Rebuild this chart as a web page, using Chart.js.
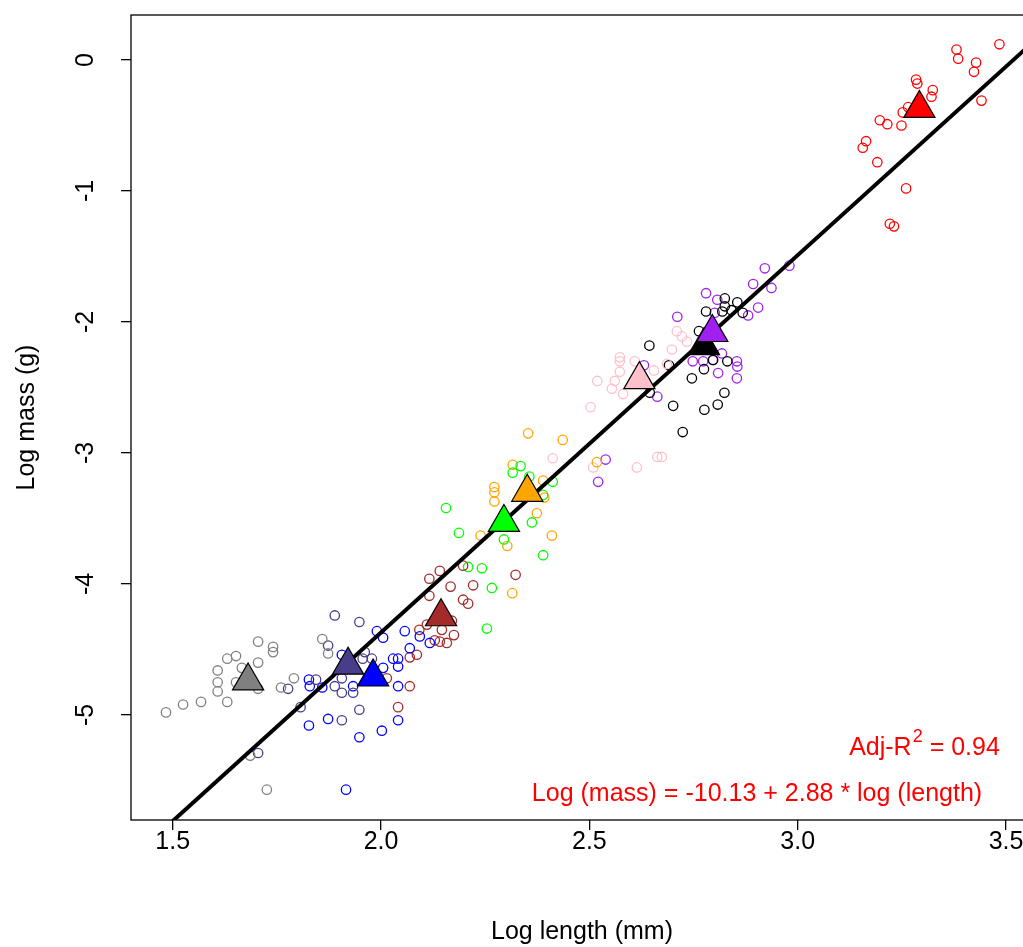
<!DOCTYPE html>
<html>
<head>
<meta charset="utf-8">
<script src="https://cdn.jsdelivr.net/npm/chart.js@4.4.1/dist/chart.umd.min.js"></script>
<style>
  html, body { margin: 0; padding: 0; background: #fff; overflow: hidden; }
  canvas { display: block; }
</style>
</head>
<body>
<canvas id="massChart" width="1040" height="947"></canvas>
<script>
// axis ticks
const xTicks = [1.5, 2.0, 2.5, 3.0, 3.5];
const yTicks = [0, -1, -2, -3, -4, -5];

// fitted line from the plot: Log (mass) = -10.13 + 2.88 * log (length)
const fitIntercept = -10.13;
const fitSlope = 2.88;

// groups (one colour each), [log length, log mass]
const groupColors = ['#808080', '#483d8b', '#0000ff', '#a52a2a', '#00ff00', '#ffa500', '#ffc0cb', '#000000', '#a020f0', '#ff0000'];

const grayPts = [[1.705,-4.44],[1.741,-4.48],[1.741,-4.52],[1.631,-4.57],[1.652,-4.55],[1.705,-4.60],[1.666,-4.64],[1.608,-4.66],[1.608,-4.75],[1.608,-4.82],[1.652,-4.75],[1.705,-4.80],[1.760,-4.79],[1.791,-4.72],[1.859,-4.42],[1.873,-4.53],[1.484,-4.98],[1.525,-4.92],[1.568,-4.90],[1.631,-4.90],[1.686,-5.31],[1.726,-5.57]];
const slatePts = [[1.777,-4.80],[1.807,-4.94],[1.705,-5.29],[1.889,-4.24],[1.948,-4.29],[1.873,-4.47],[1.961,-4.52],[1.956,-4.57],[1.978,-4.57],[1.844,-4.73],[1.889,-4.78],[1.906,-4.72],[1.906,-4.83],[1.933,-4.83],[1.948,-4.96],[1.906,-5.04]];
const bluePts = [[1.827,-4.73],[1.829,-4.78],[1.859,-4.79],[1.827,-5.08],[1.873,-5.03],[1.990,-4.36],[2.005,-4.41],[2.057,-4.36],[1.906,-4.54],[2.029,-4.57],[2.041,-4.57],[2.041,-4.63],[2.005,-4.64],[2.093,-4.40],[2.117,-4.45],[2.069,-4.49],[1.933,-4.78],[2.041,-4.78],[1.948,-5.17],[2.002,-5.12],[2.041,-5.04],[1.916,-5.57]];
const brownPts = [[2.069,-4.56],[2.086,-4.54],[2.069,-4.78],[2.014,-4.72],[2.041,-4.94],[2.116,-4.09],[2.146,-4.35],[2.092,-4.35],[2.110,-4.31],[2.141,-4.44],[2.158,-4.45],[2.129,-4.43],[2.141,-3.90],[2.116,-3.96],[2.167,-4.02],[2.197,-3.86],[2.221,-4.01],[2.323,-3.93],[2.197,-4.12],[2.209,-4.15],[2.170,-4.28],[2.175,-4.39]];
const greenPts = [[2.156,-3.42],[2.187,-3.61],[2.295,-3.66],[2.362,-3.53],[2.389,-3.78],[2.209,-3.87],[2.242,-3.88],[2.266,-4.03],[2.254,-4.34],[2.412,-3.22],[2.389,-3.32],[2.335,-3.10],[2.316,-3.15],[2.356,-3.18]];
const orangePts = [[2.272,-3.26],[2.272,-3.30],[2.272,-3.37],[2.239,-3.63],[2.303,-3.71],[2.374,-3.46],[2.410,-3.63],[2.315,-4.07],[2.353,-2.85],[2.436,-2.90],[2.316,-3.09],[2.389,-3.21],[2.392,-3.34],[2.518,-3.07]];
const pinkPts = [[2.412,-3.04],[2.509,-3.11],[2.573,-2.27],[2.573,-2.30],[2.573,-2.38],[2.609,-2.30],[2.655,-2.37],[2.686,-2.32],[2.698,-2.21],[2.710,-2.07],[2.722,-2.11],[2.734,-2.15],[2.519,-2.45],[2.561,-2.45],[2.554,-2.51],[2.581,-2.55],[2.503,-2.65],[2.614,-3.11],[2.663,-3.03],[2.674,-3.03]];
const blackPts = [[2.644,-2.18],[2.691,-2.33],[2.763,-2.07],[2.645,-2.54],[2.701,-2.64],[2.746,-2.43],[2.775,-2.36],[2.776,-2.67],[2.724,-2.84],[2.825,-1.82],[2.855,-1.85],[2.825,-1.88],[2.819,-1.92],[2.780,-1.92],[2.841,-1.91],[2.868,-1.93],[2.831,-2.30],[2.824,-2.54],[2.808,-2.63],[2.797,-2.29]];
const purplePts = [[2.631,-2.33],[2.663,-2.57],[2.748,-2.30],[2.773,-2.30],[2.796,-2.29],[2.809,-2.39],[2.521,-3.22],[2.539,-3.05],[2.921,-1.59],[2.980,-1.57],[2.893,-1.71],[2.937,-1.74],[2.780,-1.78],[2.807,-1.83],[2.905,-1.89],[2.881,-1.95],[2.711,-1.96],[2.801,-1.93],[2.818,-2.24],[2.854,-2.30],[2.855,-2.34],[2.854,-2.43]];
const redPts = [[3.381,0.08],[3.385,0.01],[3.484,0.12],[3.428,-0.02],[3.423,-0.09],[3.284,-0.15],[3.287,-0.18],[3.324,-0.23],[3.321,-0.28],[3.252,-0.40],[3.265,-0.36],[3.441,-0.31],[3.197,-0.46],[3.215,-0.49],[3.249,-0.50],[3.164,-0.62],[3.156,-0.67],[3.191,-0.78],[3.260,-0.98],[3.221,-1.25],[3.231,-1.27]];

// group means (triangles)
const meanX = [1.681, 1.921, 1.981, 2.144, 2.295, 2.351, 2.620, 2.775, 2.795, 3.292];
const meanY = [-4.74, -4.62, -4.71, -4.25, -3.53, -3.30, -2.44, -2.18, -2.08, -0.37];

const groups = [grayPts, slatePts, bluePts, brownPts, greenPts, orangePts, pinkPts, blackPts, purplePts, redPts];

const FONT = '"Liberation Sans", Arial, sans-serif';

const pointSets = groups.map((pts, i) => ({
  type: 'scatter',
  data: pts.map(p => ({ x: p[0], y: p[1] })),
  pointStyle: 'circle',
  pointRadius: 4.7,
  borderWidth: 1.3,
  borderColor: groupColors[i],
  backgroundColor: 'rgba(0,0,0,0)',
  order: 2
}));

const frameAndText = {
  id: 'frameAndText',
  afterDatasetsDraw(chart) {
    const { ctx, chartArea: a } = chart;
    ctx.save();
    ctx.strokeStyle = '#000';
    ctx.lineWidth = 1.3;
    ctx.strokeRect(a.left, a.top, a.right - a.left, a.bottom - a.top);

    ctx.fillStyle = '#ff0000';
    ctx.textBaseline = 'middle';
    ctx.textAlign = 'left';
    // Adj-R^2 line
    const big = '25px ' + FONT, small = '18px ' + FONT;
    ctx.font = big;
    const w1 = ctx.measureText('Adj-R').width;
    const w3 = ctx.measureText(' = 0.94').width;
    ctx.font = small;
    const w2 = ctx.measureText('2').width;
    let x = 924 - (w1 + w2 + w3) / 2;
    const y = 748;
    ctx.font = big;
    ctx.fillText('Adj-R', x, y);
    ctx.font = small;
    ctx.fillText('2', x + w1 + 1, y - 11);
    ctx.font = big;
    ctx.fillText(' = 0.94', x + w1 + w2 + 1, y);

    ctx.textAlign = 'center';
    ctx.fillText('Log (mass) = -10.13 + 2.88 * log (length)', 757, 794);
    ctx.restore();
  }
};

new Chart(document.getElementById('massChart'), {
  type: 'scatter',
  data: {
    datasets: [
      {
        type: 'scatter',
        data: meanX.map((v, i) => ({ x: v, y: meanY[i] })),
        pointStyle: 'triangle',
        pointRadius: 18,
        borderWidth: 1.2,
        borderColor: '#000',
        backgroundColor: groupColors,
        order: 0
      },
      {
        type: 'line',
        data: [1.4, 3.6].map(v => ({ x: v, y: fitIntercept + fitSlope * v })),
        borderColor: '#000',
        borderWidth: 4,
        pointRadius: 0,
        fill: false,
        clip: 0,
        order: 1
      },
      ...pointSets
    ]
  },
  options: {
    responsive: false,
    animation: false,
    events: [],
    layout: { autoPadding: false, padding: { top: 15, right: 7, left: 0, bottom: 0 } },
    plugins: { legend: { display: false }, tooltip: { enabled: false } },
    scales: {
      x: {
        type: 'linear',
        min: 1.4,
        max: 3.5646,
        afterBuildTicks: s => { s.ticks = xTicks.map(v => ({ value: v })); },
        afterFit: s => { s.height = 127; s.paddingLeft = 0; s.paddingRight = 0; },
        border: { display: false },
        grid: { drawOnChartArea: false, drawTicks: true, tickLength: 10, color: '#000', lineWidth: 1.3 },
        ticks: {
          color: '#000',
          padding: 0,
          autoSkip: false,
          maxRotation: 0,
          font: { family: FONT, size: 25, lineHeight: 1 },
          callback: v => v.toFixed(1)
        },
        title: {
          display: true,
          text: 'Log length (mm)',
          color: '#000',
          padding: 0,
          font: { family: FONT, size: 25, lineHeight: 1.2 }
        }
      },
      y: {
        type: 'linear',
        min: -5.8015,
        max: 0.3435,
        afterBuildTicks: s => { s.ticks = yTicks.map(v => ({ value: v })); },
        afterFit: s => { s.width = 131; s.paddingTop = 0; s.paddingBottom = 0; },
        border: { display: false },
        grid: { drawOnChartArea: false, drawTicks: true, tickLength: 10, color: '#000', lineWidth: 1.3 },
        ticks: {
          color: '#000',
          padding: 24,
          autoSkip: false,
          minRotation: 90,
          maxRotation: 90,
          crossAlign: 'center',
          font: { family: FONT, size: 25, lineHeight: 1 },
          callback: v => String(v)
        },
        title: {
          display: true,
          text: 'Log mass (g)',
          color: '#000',
          padding: { top: 12, bottom: 0 },
          font: { family: FONT, size: 25, lineHeight: 1.2 }
        }
      }
    }
  },
  plugins: [frameAndText]
});
</script>
</body>
</html>
